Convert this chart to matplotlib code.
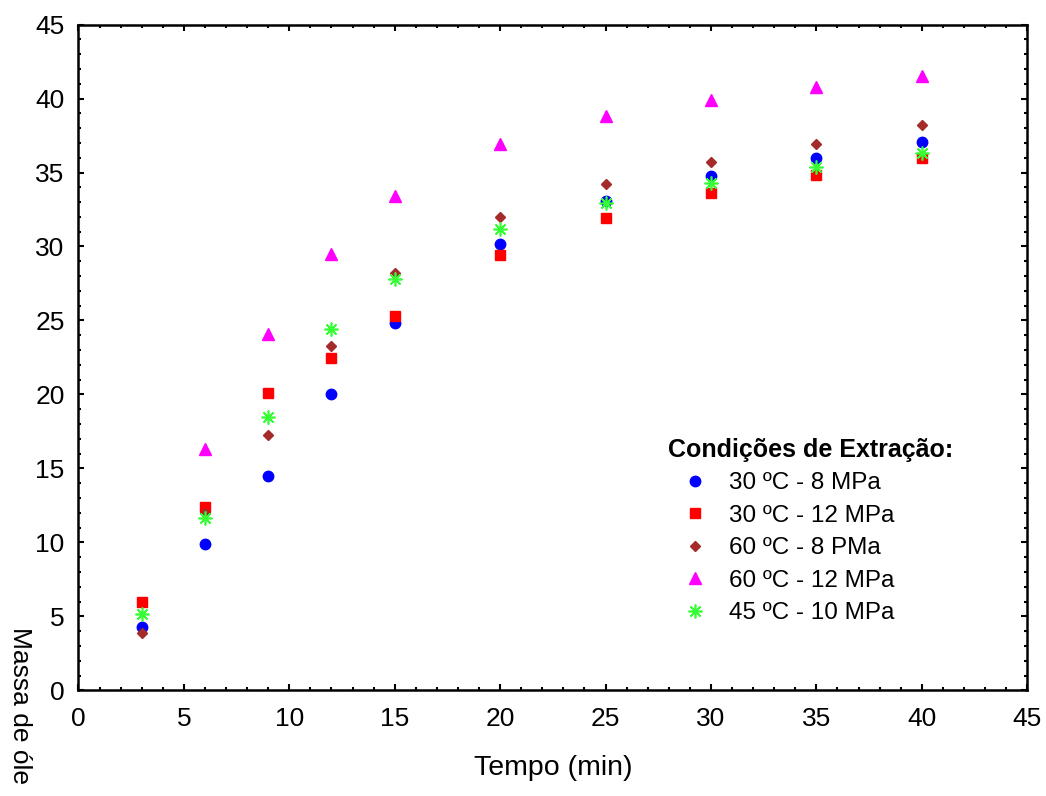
import matplotlib
matplotlib.use('Agg')
import matplotlib.pyplot as plt
from matplotlib.ticker import MultipleLocator

plt.rcParams['font.family'] = ['Liberation Sans', 'DejaVu Sans']

tempo = [3, 6, 9, 12, 15, 20, 25, 30, 35, 40]

massa_30_8 = [4.3, 9.9, 14.5, 20.0, 24.8, 30.2, 33.1, 34.75, 35.95, 37.05]
massa_30_12 = [6.0, 12.4, 20.1, 22.45, 25.3, 29.45, 31.9, 33.6, 34.85, 36.0]
massa_60_8 = [3.9, 12.0, 17.25, 23.3, 28.2, 32.0, 34.2, 35.7, 36.95, 38.2]
massa_60_12 = [None, 16.3, 24.1, 29.5, 33.4, 36.95, 38.8, 39.9, 40.8, 41.5]
massa_45_10 = [5.15, 11.65, 18.5, 24.4, 27.8, 31.2, 32.95, 34.3, 35.4, 36.3]

labels = ['30 ºC - 8 MPa', '30 ºC - 12 MPa', '60 ºC - 8 PMa', '60 ºC - 12 MPa', '45 ºC - 10 MPa']

fig = plt.figure(figsize=(10.46, 7.96), dpi=100)
ax = fig.add_axes([0.075, 0.1326, 0.907, 0.8366])

ax.plot(tempo, massa_30_8, 'o', color='#0000ff', markersize=7.5, label=labels[0])
ax.plot(tempo, massa_30_12, 's', color='#ff0000', markersize=7, label=labels[1])
ax.plot(tempo, massa_60_8, 'D', color='#a52a2a', markersize=5, label=labels[2])
x_60_12 = [t for t, m in zip(tempo, massa_60_12) if m is not None]
y_60_12 = [m for m in massa_60_12 if m is not None]
ax.plot(x_60_12, y_60_12, '^', color='#ff00ff', markersize=8, label=labels[3])
ax.plot(tempo, massa_45_10, marker=(8, 2, 0), linestyle='none', color='#33ff33',
        markersize=10, markeredgewidth=1.2, label=labels[4])

ax.set_xlim(0, 45)
ax.set_ylim(0, 45)
ax.xaxis.set_major_locator(MultipleLocator(5))
ax.yaxis.set_major_locator(MultipleLocator(5))
ax.xaxis.set_minor_locator(MultipleLocator(1))
ax.yaxis.set_minor_locator(MultipleLocator(1))
ax.tick_params(which='both', direction='in', top=True, right=True, labelsize=19, width=1.5)
ax.tick_params(which='major', length=4.5)
ax.tick_params(which='minor', length=2.5)
ax.tick_params(axis='x', pad=12)
ax.tick_params(axis='y', pad=10)
for s in ax.spines.values():
    s.set_linewidth(1.8)

ax.set_xlabel('Tempo (min)', fontsize=20.5, labelpad=17)
fig.text(0.019, 1 - 627 / 796, 'Massa de óle', rotation=-90, va='top', ha='center', fontsize=19)

leg = ax.legend(loc='upper left', bbox_to_anchor=(0.611, 0.394), frameon=False,
                title='Condições de Extração:', fontsize=17.5,
                title_fontproperties={'weight': 'bold', 'size': 18},
                handletextpad=0.3, labelspacing=0.43, alignment='left',
                borderaxespad=0, handlelength=2.2)

fig.savefig('out.png', dpi=100)
